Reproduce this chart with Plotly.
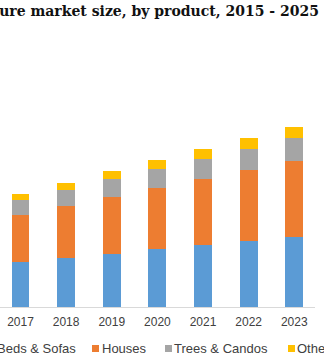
import plotly.graph_objects as go

# Market size by product segment (USD Million), stacked per year
years = [2017, 2018, 2019, 2020, 2021, 2022, 2023]
beds_sofas = [45.3, 49.3, 53.3, 58.0, 62.0, 66.0, 70.0]
houses = [46.7, 52.0, 56.7, 61.3, 66.0, 71.3, 76.0]
trees_candos = [15.0, 16.0, 18.0, 18.7, 20.0, 20.7, 23.0]
others = [6.0, 6.7, 8.0, 9.0, 10.0, 11.0, 11.0]

series_names = ["Beds & Sofas", "Houses", "Trees & Candos", "Others"]
series_values = [beds_sofas, houses, trees_candos, others]
colors = ["#5B9BD5", "#ED7D31", "#A5A5A5", "#FFC000"]

W, H = 324, 363
ML, MR, MT, MB = 0, 9, 40, 56
plot_w = W - ML - MR
plot_h = H - MT - MB

fig = go.Figure()
for name, vals, col in zip(series_names, series_values, colors):
    fig.add_trace(go.Bar(x=years, y=vals, name=name, marker_color=col,
                         marker_line_width=0, width=0.394, showlegend=False))

# Legend row drawn as squares + labels (pixel positions converted to paper)
def px_x(p):
    return (p - ML) / plot_w

def px_y(p):
    return (H - MB - p) / plot_h

legend_sq = [-14, 92, 165, 288]
legend_txt = [-4, 101, 173, 296]
shapes = []
annotations = []
for name, col, sx, tx in zip(series_names, colors, legend_sq, legend_txt):
    shapes.append(dict(type="rect", xref="paper", yref="paper",
                       x0=px_x(sx), x1=px_x(sx + 7), y0=px_y(352), y1=px_y(345),
                       fillcolor=col, line_width=0))
    annotations.append(dict(text=name, xref="paper", yref="paper",
                            x=px_x(tx), y=px_y(348), xanchor="left", yanchor="middle",
                            showarrow=False, borderpad=0,
                            font=dict(family="Liberation Sans, Arial", size=13, color="#404040")))

fig.update_layout(
    width=W, height=H,
    barmode="stack",
    margin=dict(l=ML, r=MR, t=MT, b=MB, autoexpand=False),
    paper_bgcolor="white", plot_bgcolor="white",
    title=dict(text="<b>Pet furniture market size, by product, 2015 - 2025</b>",
               xref="container", yref="container",
               x=319 / W, xanchor="right", y=1 - 11 / H, yanchor="middle",
               font=dict(family="DejaVu Serif", size=14, color="#111111")),
    xaxis=dict(range=[2016.551, 2023.454], tickvals=years, ticktext=[str(y) for y in years],
               showline=True, linecolor="#D9D9D9", linewidth=1, showgrid=False, zeroline=False,
               ticks="", ticklabelstandoff=4,
               tickfont=dict(family="Liberation Sans, Arial", size=12, color="#404040")),
    yaxis=dict(range=[0, plot_h], visible=False, showgrid=False, zeroline=False),
    shapes=shapes, annotations=annotations,
    showlegend=False,
)

fig.write_html("out.html")
